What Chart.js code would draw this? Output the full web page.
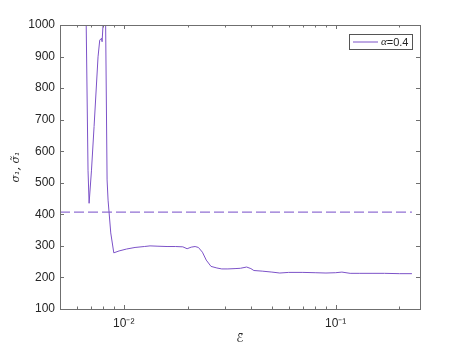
<!DOCTYPE html>
<html>
<head>
<meta charset="utf-8">
<script src="https://cdn.jsdelivr.net/npm/chart.js@4/dist/chart.umd.min.js"></script>
<style>
  html, body { margin: 0; padding: 0; background: #fff; }
  #wrap { width: 464px; height: 348px; }
</style>
</head>
<body>
<div id="wrap"><canvas id="chart" width="464" height="348"></canvas></div>
<script>
// strain values (x, log axis) and stress values
const strainValues = [0.00659, 0.00678, 0.00686, 0.00704, 0.00724, 0.00756, 0.0077, 0.00785, 0.0079, 0.00798, 0.00804,
  0.00815, 0.0082, 0.00834, 0.00843, 0.00868, 0.00897, 0.0095, 0.0103, 0.0113, 0.0125, 0.0133, 0.0145, 0.016, 0.0175,
  0.019, 0.0199, 0.0208, 0.0217, 0.0225, 0.0235, 0.0245, 0.0258, 0.0275, 0.029, 0.031, 0.0335, 0.0355, 0.038, 0.0398,
  0.0411, 0.045, 0.05, 0.0545, 0.06, 0.07, 0.08, 0.09, 0.1, 0.107, 0.117, 0.13, 0.15, 0.17, 0.2, 0.229];
const sigmaValues = [1200, 540, 435, 540, 678, 899, 952, 958, 947, 1000, 1100,
  1250, 1040, 509, 445, 341, 278, 284, 290, 295, 298, 300, 299, 298, 298,
  297, 291, 296, 298, 295, 280, 255, 235, 230, 227, 227, 228, 229, 233, 228,
  222, 220, 217, 214, 216, 216, 215, 214, 215, 217, 213, 213, 213, 213, 212, 212];
const refStrain = [0.005, 0.229];
const refSigma = [407, 407];

const xRange = [0.005, 0.25];
const yTicks = [100, 200, 300, 400, 500, 600, 700, 800, 900, 1000];
const xMajor = [0.01, 0.1];
const xMinor = [0.005, 0.006, 0.007, 0.008, 0.009, 0.02, 0.03, 0.04, 0.05, 0.06, 0.07, 0.08, 0.09, 0.2];
const xLabels = { 0.01: '10\u207B\u00B2', 0.1: '10\u207B\u00B9' };

const lineColor = '#7c52c8';
const dashColor = '#9170d4';
const axisColor = '#6f6f6f';
const textColor = '#262626';

const curve = strainValues.map((x, i) => ({ x: x, y: sigmaValues[i] }));
const refLine = refStrain.map((x, i) => ({ x: x, y: refSigma[i] }));

// matlab style box with inward ticks, and the legend box
const boxPlugin = {
  id: 'box',
  afterDraw(chart) {
    const ctx = chart.ctx;
    const a = chart.chartArea;
    const xs = chart.scales.x, ys = chart.scales.y;
    ctx.save();
    ctx.strokeStyle = axisColor;
    ctx.lineWidth = 1;
    ctx.strokeRect(a.left + 0.5, a.top + 0.5, a.right - a.left, a.bottom - a.top);
    ctx.beginPath();
    const tickX = (v, len) => {
      const px = Math.round(xs.getPixelForValue(v)) + 0.5;
      ctx.moveTo(px, a.bottom); ctx.lineTo(px, a.bottom - len);
      ctx.moveTo(px, a.top); ctx.lineTo(px, a.top + len);
    };
    xMajor.forEach(v => tickX(v, 4));
    xMinor.forEach(v => tickX(v, 2.5));
    yTicks.forEach(v => {
      const py = Math.round(ys.getPixelForValue(v)) + 0.5;
      ctx.moveTo(a.left, py); ctx.lineTo(a.left + 4, py);
      ctx.moveTo(a.right, py); ctx.lineTo(a.right - 4, py);
    });
    ctx.stroke();

    // legend
    const ds = chart.data.datasets[0];
    const bx = a.right - 71, by = a.top + 9, bw = 63, bh = 15;
    ctx.fillStyle = '#fff';
    ctx.fillRect(bx, by, bw, bh);
    ctx.strokeStyle = '#555';
    ctx.strokeRect(bx + 0.5, by + 0.5, bw, bh);
    ctx.strokeStyle = ds.borderColor;
    ctx.beginPath();
    ctx.moveTo(bx + 4, by + 8); ctx.lineTo(bx + 29, by + 8);
    ctx.stroke();
    ctx.fillStyle = textColor;
    ctx.textBaseline = 'middle';
    ctx.font = 'italic 11px "Liberation Serif"';
    ctx.fillText('\u03B1', bx + 32, by + 8.5);
    const w = ctx.measureText('\u03B1').width;
    ctx.font = '11px "Liberation Sans"';
    ctx.fillText(ds.label.slice(1), bx + 32 + w, by + 8.5);
    ctx.restore();
  }
};

new Chart(document.getElementById('chart'), {
  type: 'line',
  data: {
    datasets: [
      {
        label: '\u03B1=0.4',
        data: curve,
        borderColor: lineColor,
        borderWidth: 1,
        pointRadius: 0,
        tension: 0
      },
      {
        label: 'ref',
        data: refLine,
        borderColor: dashColor,
        borderWidth: 1.2,
        borderDash: [10, 4],
        pointRadius: 0
      }
    ]
  },
  options: {
    responsive: false,
    animation: false,
    layout: { padding: { left: 0, right: 44, top: 25, bottom: 0 } },
    plugins: {
      legend: { display: false },
      tooltip: { enabled: false }
    },
    scales: {
      x: {
        type: 'logarithmic',
        min: xRange[0],
        max: xRange[1],
        afterBuildTicks: (scale) => {
          scale.ticks = xMajor.concat(xMinor).sort((p, q) => p - q).map(v => ({ value: v }));
        },
        afterFit: (scale) => { scale.height = 39; },
        grid: { display: false, drawTicks: false },
        border: { display: false },
        ticks: {
          autoSkip: false,
          maxRotation: 0,
          padding: 7,
          color: textColor,
          font: { family: 'Liberation Sans', size: 12 },
          callback: (v) => xLabels[v] || ''
        },
        title: {
          display: true,
          text: '\u2130\u0304',
          color: textColor,
          padding: { top: 0, bottom: 2 },
          font: { family: 'DejaVu Sans', size: 12 }
        }
      },
      y: {
        min: 100,
        max: 1000,
        afterBuildTicks: (scale) => {
          scale.ticks = yTicks.map(v => ({ value: v }));
        },
        afterFit: (scale) => { scale.width = 60; },
        grid: { display: false, drawTicks: false },
        border: { display: false },
        ticks: {
          padding: 5,
          color: textColor,
          font: { family: 'Liberation Sans', size: 12 },
          callback: (v) => String(v)
        },
        title: {
          display: true,
          text: '\u03C3\u2081, \u03C3\u0303\u2081',
          color: textColor,
          padding: { top: 10, bottom: 0 },
          font: { family: 'DejaVu Serif', size: 11, style: 'italic' }
        }
      }
    }
  },
  plugins: [boxPlugin]
});
</script>
</body>
</html>
